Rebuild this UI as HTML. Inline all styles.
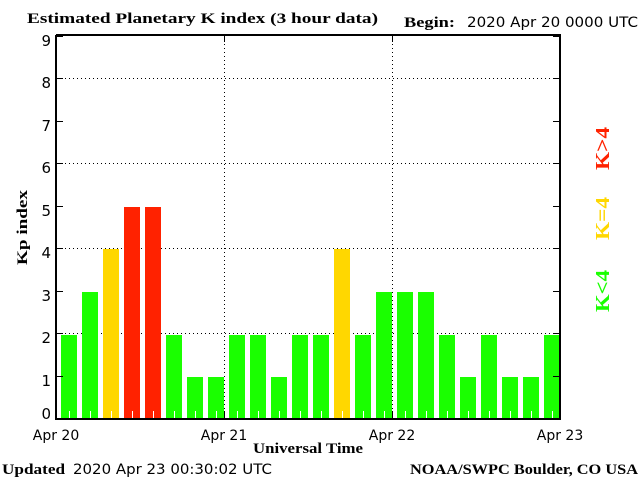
<!DOCTYPE html>
<html><head><meta charset="utf-8"><style>
html,body{margin:0;padding:0;background:#fff;}
svg{display:block;}
.s{font-family:"DejaVu Sans","Liberation Sans",sans-serif;font-size:14px;fill:#000;}
.b{font-family:"Liberation Serif","DejaVu Serif",serif;font-weight:bold;font-size:15px;fill:#000;}
</style></head><body>
<svg width="640" height="480" xmlns="http://www.w3.org/2000/svg">
<rect width="640" height="480" fill="#fff"/>
<text class="b" x="27" y="23" textLength="351" lengthAdjust="spacingAndGlyphs">Estimated Planetary K index (3 hour data)</text>
<text class="b" x="404" y="27" textLength="51" lengthAdjust="spacingAndGlyphs">Begin:</text>
<text class="s" x="467" y="27" textLength="171" lengthAdjust="spacingAndGlyphs">2020 Apr 20 0000 UTC</text>
<g stroke="#000" stroke-width="1" stroke-dasharray="1,3">
<line x1="57" y1="78.5" x2="560" y2="78.5"/>
<line x1="57" y1="163.5" x2="560" y2="163.5"/>
<line x1="57" y1="248.5" x2="560" y2="248.5"/>
<line x1="57" y1="333.5" x2="560" y2="333.5"/>
<line x1="224.5" y1="36" x2="224.5" y2="418"/>
<line x1="392.5" y1="36" x2="392.5" y2="418"/>
</g>
<g fill="#1aff00">
<rect x="61" y="335" width="16" height="84"/>
<rect x="82" y="292" width="16" height="127"/>
<rect x="166" y="335" width="16" height="84"/>
<rect x="187" y="377" width="16" height="42"/>
<rect x="208" y="377" width="16" height="42"/>
<rect x="229" y="335" width="16" height="84"/>
<rect x="250" y="335" width="16" height="84"/>
<rect x="271" y="377" width="16" height="42"/>
<rect x="292" y="335" width="16" height="84"/>
<rect x="313" y="335" width="16" height="84"/>
<rect x="355" y="335" width="16" height="84"/>
<rect x="376" y="292" width="16" height="127"/>
<rect x="397" y="292" width="16" height="127"/>
<rect x="418" y="292" width="16" height="127"/>
<rect x="439" y="335" width="16" height="84"/>
<rect x="460" y="377" width="16" height="42"/>
<rect x="481" y="335" width="16" height="84"/>
<rect x="502" y="377" width="16" height="42"/>
<rect x="523" y="377" width="16" height="42"/>
<rect x="544" y="335" width="16" height="84"/>
</g>
<g fill="#ffd700">
<rect x="103" y="249" width="16" height="170"/>
<rect x="334" y="249" width="16" height="170"/>
</g>
<g fill="#ff2200">
<rect x="124" y="207" width="16" height="212"/>
<rect x="145" y="207" width="16" height="212"/>
</g>
<path stroke="#fff" stroke-width="1" d="M69.5,411V419M90.5,411V419M111.5,411V419M132.5,411V419M153.5,411V419M174.5,411V419M195.5,411V419M216.5,411V419M237.5,411V419M258.5,411V419M279.5,411V419M300.5,411V419M321.5,411V419M342.5,411V419M363.5,411V419M384.5,411V419M405.5,411V419M426.5,411V419M447.5,411V419M468.5,411V419M489.5,411V419M510.5,411V419M531.5,411V419M552.5,411V419"/>
<path d="M56,35 V419 H560 V35 H56" stroke="#000" stroke-width="2" fill="none"/>
<path stroke="#000" stroke-width="1" d="M57,36.5H63M553,36.5H559M57,121.5H63M553,121.5H559M57,206.5H63M553,206.5H559M57,291.5H63M553,291.5H559M57,376.5H63M553,376.5H559M57,78.5H63M553,78.5H559M57,163.5H63M553,163.5H559M57,248.5H63M553,248.5H559M57,333.5H63M553,333.5H559M224.5,36V42M392.5,36V42M224.5,411V418M392.5,411V418"/>
<g class="s" text-anchor="end" style="font-size:15px">
<text x="51" y="46">9</text><text x="51" y="88">8</text><text x="51" y="131">7</text>
<text x="51" y="173">6</text><text x="51" y="216">5</text><text x="51" y="258">4</text>
<text x="51" y="301">3</text><text x="51" y="343">2</text><text x="51" y="386">1</text>
<text x="51" y="419">0</text>
</g>
<g class="s" text-anchor="middle">
<text x="56" y="440">Apr 20</text><text x="224" y="440">Apr 21</text>
<text x="392" y="440">Apr 22</text><text x="560" y="440">Apr 23</text>
</g>
<text class="b" x="253" y="453" textLength="110" lengthAdjust="spacingAndGlyphs">Universal Time</text>
<text class="b" transform="translate(27,265) rotate(-90)" textLength="75" lengthAdjust="spacingAndGlyphs">Kp index</text>
<g font-family="Liberation Serif,serif" font-weight="bold" font-size="20">
<text transform="translate(609,170) rotate(-90)" fill="#ff2200" textLength="43" lengthAdjust="spacingAndGlyphs">K&gt;4</text>
<text transform="translate(609,240) rotate(-90)" fill="#ffd700" textLength="43" lengthAdjust="spacingAndGlyphs">K=4</text>
<text transform="translate(609,312) rotate(-90)" fill="#1aff00" textLength="42" lengthAdjust="spacingAndGlyphs">K&lt;4</text>
</g>
<text class="b" x="2" y="474" textLength="63" lengthAdjust="spacingAndGlyphs">Updated</text>
<text class="s" x="73" y="474" textLength="199" lengthAdjust="spacingAndGlyphs">2020 Apr 23 00:30:02 UTC</text>
<text class="b" x="410" y="474" textLength="228" lengthAdjust="spacingAndGlyphs">NOAA/SWPC Boulder, CO USA</text>
</svg>
</body></html>
